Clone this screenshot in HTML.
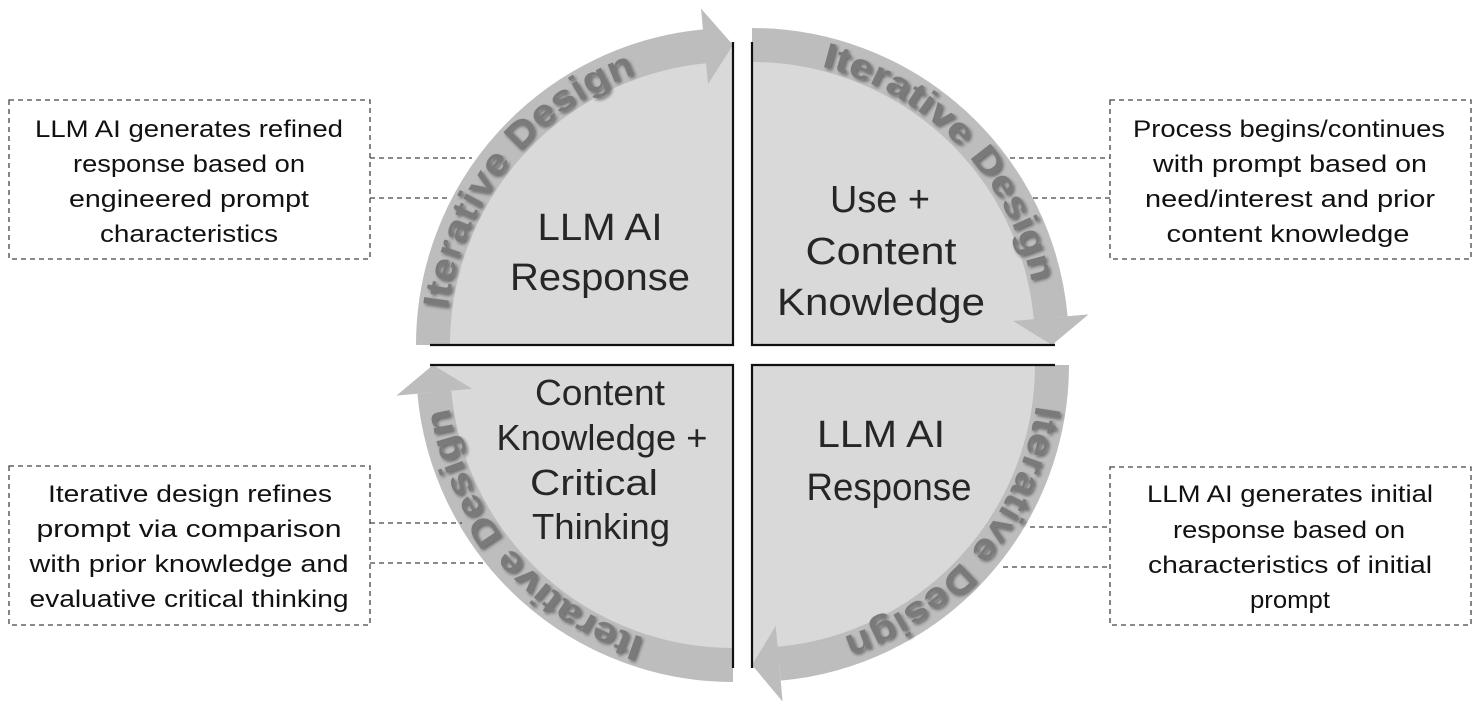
<!DOCTYPE html>
<html><head><meta charset="utf-8"><style>
html,body{margin:0;padding:0;background:#fff;}
svg{display:block;}
.c{font-family:"Liberation Sans",sans-serif;fill:#262626;text-anchor:middle;}
.b{font-family:"Liberation Sans",sans-serif;fill:#111;font-size:24px;text-anchor:middle;}
.it{font-family:"Liberation Sans",sans-serif;font-weight:bold;font-size:36px;fill:#7a7a7a;}
</style></head><body>
<svg width="1482" height="705" viewBox="0 0 1482 705" xmlns="http://www.w3.org/2000/svg">
<defs>
<path id="pTL" d="M447.6,309.5 A287,287 0 0 1 650.8,69"/>
<path id="pTR" d="M821.4,66.5 A287,287 0 0 1 1032.7,285.3"/>
<path id="pBR" d="M1036.2,405 A287,287 0 0 1 840.7,638"/>
<path id="pBL" d="M644.3,638 A287,287 0 0 1 448.8,405"/>
<filter id="sh" x="-10%" y="-10%" width="120%" height="120%"><feGaussianBlur in="SourceAlpha" stdDeviation="1.5"/><feOffset dx="2" dy="2"/><feComponentTransfer><feFuncA type="linear" slope="0.45"/></feComponentTransfer><feMerge><feMergeNode/><feMergeNode in="SourceGraphic"/></feMerge></filter>
</defs>
<g fill="#d9d9d9">
<path d="M733,345 L430,345 A303,303 0 0 1 733,42 Z"/>
<path d="M752,345 L752,42 A303,303 0 0 1 1055,345 Z"/>
<path d="M752,365 L1055,365 A303,303 0 0 1 752,668 Z"/>
<path d="M733,365 L733,668 A303,303 0 0 1 430,365 Z"/>
</g>
<g fill="none" stroke="#bdbdbd" stroke-width="34">
<path d="M433,345 A300,300 0 0 1 705,46.3"/>
<path d="M752,45 A300,300 0 0 1 1050.7,317.8"/>
<path d="M1052,365 A300,300 0 0 1 779.2,663.7"/>
<path d="M733,665 A300,300 0 0 1 434.3,392.2"/>
</g>
<g fill="#bdbdbd">
<polygon points="708,84 701,8.5 733,45"/>
<polygon points="1013,321 1088.6,314.4 1052,345"/>
<polygon points="775.7,625.9 782.6,701.6 752,665"/>
<polygon points="472,388.7 396.4,395.6 433,365"/>
</g>
<g stroke="#111" stroke-width="2.2" fill="none">
<path d="M430,345 H733 V42"/>
<path d="M752,42 V345 H1055"/>
<path d="M1055,365 H752 V668"/>
<path d="M733,668 V365 H430"/>
</g>
<g class="it" filter="url(#sh)">
<text><textPath href="#pTL" textLength="318" lengthAdjust="spacingAndGlyphs" startOffset="0">Iterative Design</textPath></text>
<text><textPath href="#pTR" textLength="318" lengthAdjust="spacingAndGlyphs" startOffset="0">Iterative Design</textPath></text>
<text><textPath href="#pBR" textLength="318" lengthAdjust="spacingAndGlyphs" startOffset="0">Iterative Design</textPath></text>
<text><textPath href="#pBL" textLength="318" lengthAdjust="spacingAndGlyphs" startOffset="0">Iterative Design</textPath></text>
</g>
<g class="c" font-size="38">
<text x="600" y="240" textLength="125" lengthAdjust="spacingAndGlyphs">LLM AI</text>
<text x="600" y="290" textLength="180" lengthAdjust="spacingAndGlyphs">Response</text>
<text x="880" y="212" textLength="100" lengthAdjust="spacingAndGlyphs">Use +</text>
<text x="881" y="264" textLength="151" lengthAdjust="spacingAndGlyphs">Content</text>
<text x="881" y="315" textLength="208" lengthAdjust="spacingAndGlyphs">Knowledge</text>
<text x="600" y="405" font-size="36" textLength="130" lengthAdjust="spacingAndGlyphs">Content</text>
<text x="602" y="450" font-size="36" textLength="211" lengthAdjust="spacingAndGlyphs">Knowledge +</text>
<text x="594" y="495" font-size="36" textLength="128" lengthAdjust="spacingAndGlyphs">Critical</text>
<text x="601" y="539" font-size="36" textLength="138" lengthAdjust="spacingAndGlyphs">Thinking</text>
<text x="881" y="447" textLength="128" lengthAdjust="spacingAndGlyphs">LLM AI</text>
<text x="889" y="500" textLength="165" lengthAdjust="spacingAndGlyphs">Response</text>
</g>
<g fill="none" stroke="#444" stroke-width="1.3" stroke-dasharray="5,4">
<rect x="9" y="100" width="361" height="159"/>
<rect x="1110" y="100" width="361" height="159"/>
<rect x="9" y="466" width="361" height="159"/>
<rect x="1110" y="467" width="361" height="158"/>
<path d="M370,158 H472 M370,198 H447"/>
<path d="M1010,158 H1110 M1033,198 H1110"/>
<path d="M370,523 H462 M370,563 H487"/>
<path d="M1030,527 H1110 M1003,567 H1110"/>
</g>
<g class="b">
<text x="189" y="137" textLength="308" lengthAdjust="spacingAndGlyphs">LLM AI generates refined</text>
<text x="189" y="172" textLength="232" lengthAdjust="spacingAndGlyphs">response based on</text>
<text x="189" y="207" textLength="240" lengthAdjust="spacingAndGlyphs">engineered prompt</text>
<text x="189" y="242" textLength="178" lengthAdjust="spacingAndGlyphs">characteristics</text>
<text x="1289" y="137" textLength="312" lengthAdjust="spacingAndGlyphs">Process begins/continues</text>
<text x="1290" y="172" textLength="274" lengthAdjust="spacingAndGlyphs">with prompt based on</text>
<text x="1290" y="207" textLength="290" lengthAdjust="spacingAndGlyphs">need/interest and prior</text>
<text x="1288" y="242" textLength="243" lengthAdjust="spacingAndGlyphs">content knowledge</text>
<text x="190" y="502" textLength="284" lengthAdjust="spacingAndGlyphs">Iterative design refines</text>
<text x="189" y="537" textLength="305" lengthAdjust="spacingAndGlyphs">prompt via comparison</text>
<text x="189" y="572" textLength="319" lengthAdjust="spacingAndGlyphs">with prior knowledge and</text>
<text x="189" y="607" textLength="319" lengthAdjust="spacingAndGlyphs">evaluative critical thinking</text>
<text x="1290" y="502" textLength="286" lengthAdjust="spacingAndGlyphs">LLM AI generates initial</text>
<text x="1289" y="538" textLength="232" lengthAdjust="spacingAndGlyphs">response based on</text>
<text x="1290" y="573" textLength="284" lengthAdjust="spacingAndGlyphs">characteristics of initial</text>
<text x="1290" y="608" textLength="80" lengthAdjust="spacingAndGlyphs">prompt</text>
</g>
</svg>
</body></html>
